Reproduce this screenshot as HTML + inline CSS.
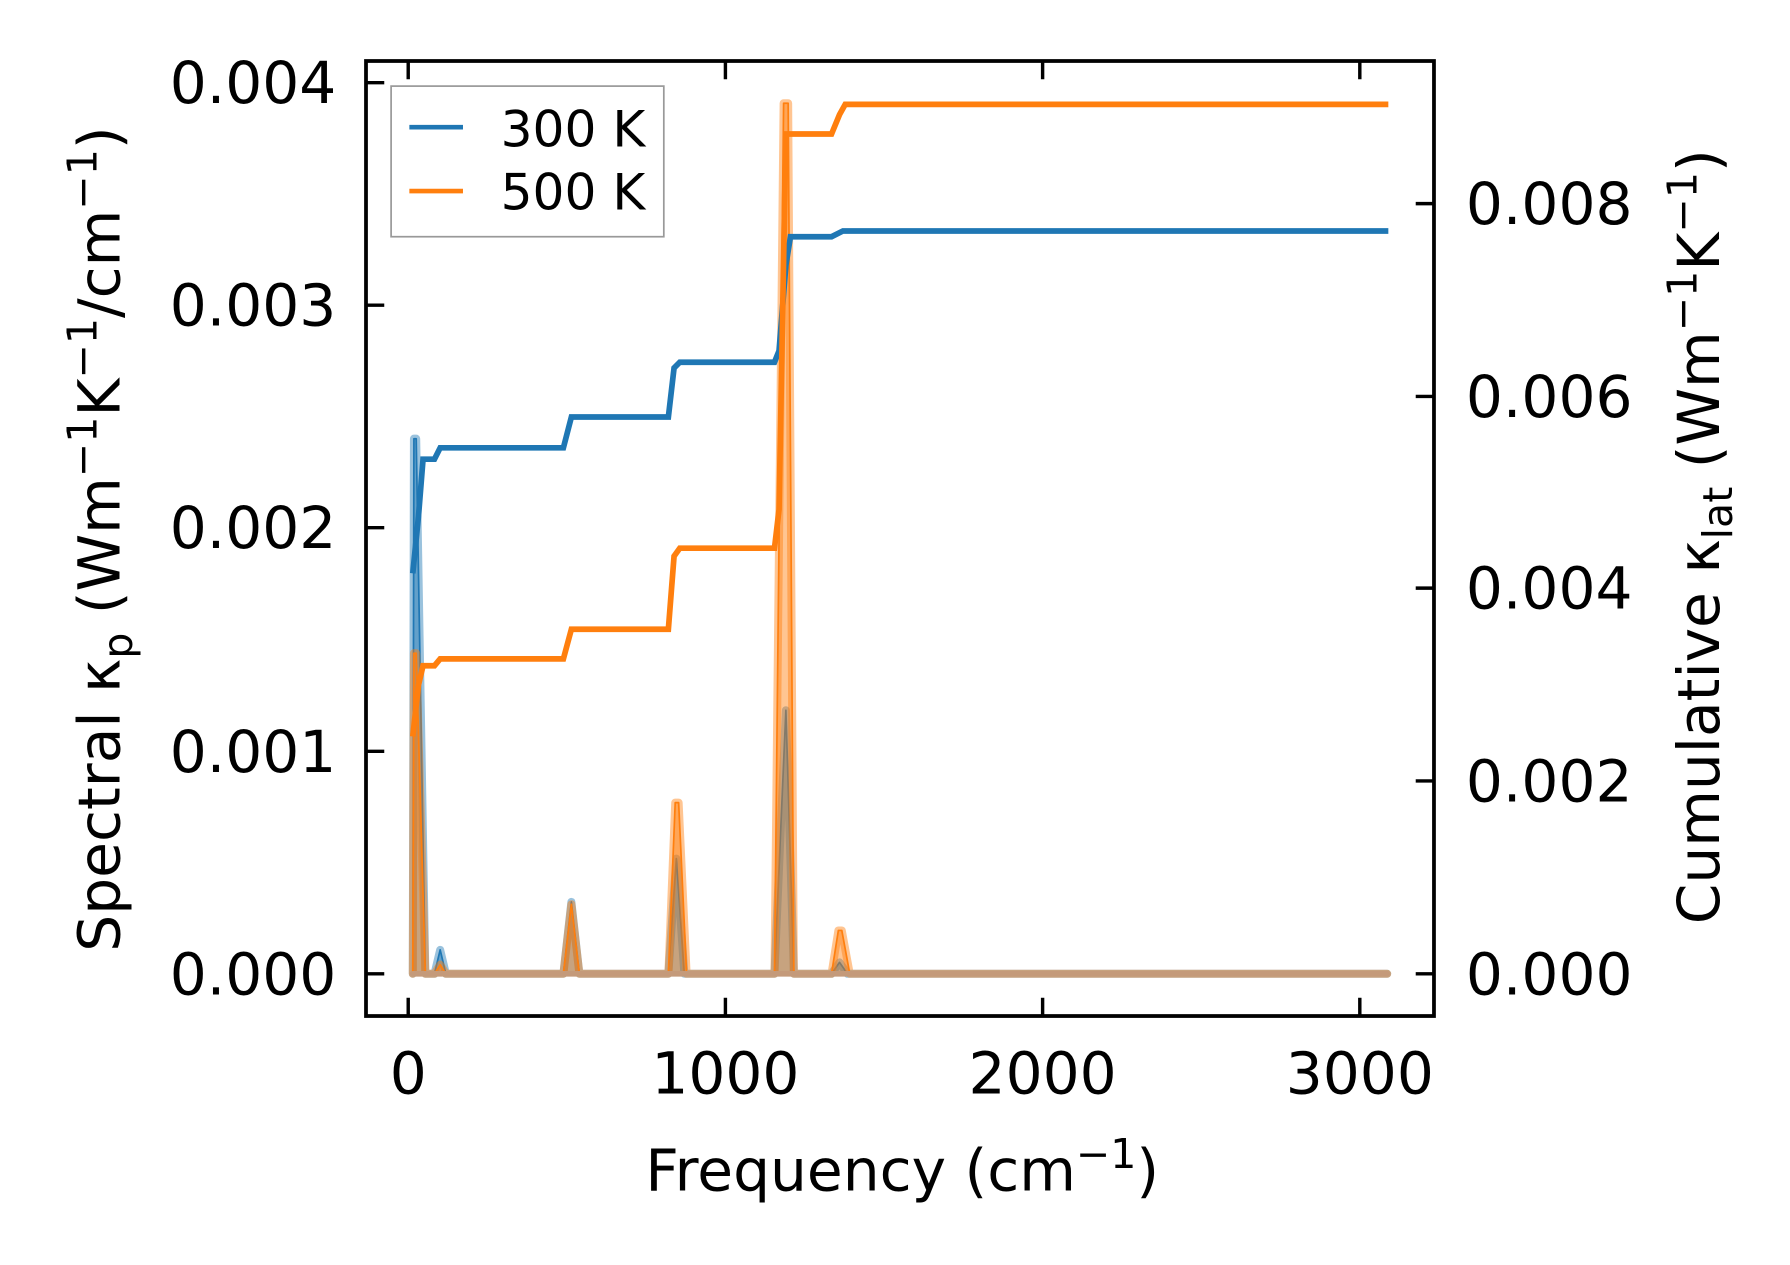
<!DOCTYPE html>
<html><head><meta charset="utf-8"><style>html,body{margin:0;padding:0;background:#fff}svg{display:block}</style></head>
<body>
<svg width="1790" height="1265" viewBox="0 0 1790 1265" xmlns="http://www.w3.org/2000/svg" font-family="'DejaVu Sans','Liberation Sans',sans-serif">
<rect width="1790" height="1265" fill="#fff"/>
<g transform="translate(366,61) scale(1.141) translate(-320,-53)">
  <g stroke-linejoin="round" stroke-linecap="round">
    <polygon fill="#1f77b4" fill-opacity="0.45" points="361,853 362,384 364,384 372,853 380,853 385,832 390,853 493,853 500,790 507,853 585,853 592,752 599,853 678,853 688,622 695,853 728,853 735,843 742,853"/>
    <polyline fill="none" stroke="#1f77b4" stroke-opacity="0.45" stroke-width="7" points="361,853 362,384 364,384 372,853 380,853 385,832 390,853 493,853 500,790 507,853 585,853 592,752 599,853 678,853 688,622 695,853 728,853 735,843 742,853 1215,853"/>
    <polyline fill="none" stroke="#1f77b4" stroke-width="1.5" points="361,853 362,384 364,384 372,853 380,853 385,832 390,853 493,853 500,790 507,853 585,853 592,752 599,853 678,853 688,622 695,853 728,853 735,843 742,853 1215,853"/>
    <polygon fill="#ff7f0e" fill-opacity="0.45" points="361,853 362,572 364,572 372,853 380,853 385,845 390,853 493,853 500,792 507,853 585,853 591,703 594,703 601,853 678,853 686,90 690,90 695,853 728,853 734,815 737,815 744,853"/>
    <polyline fill="none" stroke="#ff7f0e" stroke-opacity="0.45" stroke-width="7" points="361,853 362,572 364,572 372,853 380,853 385,845 390,853 493,853 500,792 507,853 585,853 591,703 594,703 601,853 678,853 686,90 690,90 695,853 728,853 734,815 737,815 744,853 1215,853"/>
    <polyline fill="none" stroke="#ff7f0e" stroke-width="1.5" points="361,853 362,572 364,572 372,853 380,853 385,845 390,853 493,853 500,792 507,853 585,853 591,703 594,703 601,853 678,853 686,90 690,90 695,853 728,853 734,815 737,815 744,853"/>
    <line x1="361" y1="853" x2="1215" y2="853" stroke="#c49a7a" stroke-width="5"/>
  </g>
  <polyline fill="none" stroke="#1f77b4" stroke-width="5" points="361,502 366,452 370,402 380,402 385,392 493,392 500,365 585,365 590,322 595,317 678,317 682,307 688,232 692,207 728,207 738,202 1216,202"/>
  <polyline fill="none" stroke="#ff7f0e" stroke-width="5" points="361,645 366,600 370,583 380,583 385,577 493,577 500,551 585,551 590,487 595,480 678,480 682,446 688,117 692,117 728,117 735,100 740,91 1216,91"/>
  <rect x="320" y="53" width="936" height="837" fill="none" stroke="#000" stroke-width="3.3"/>
  <g stroke="#000" stroke-width="3">
    <line x1="320" y1="853" x2="336" y2="853"/><line x1="320" y1="658" x2="336" y2="658"/><line x1="320" y1="462" x2="336" y2="462"/><line x1="320" y1="267" x2="336" y2="267"/><line x1="320" y1="72" x2="336" y2="72"/>
    <line x1="1240" y1="853" x2="1256" y2="853"/><line x1="1240" y1="684" x2="1256" y2="684"/><line x1="1240" y1="515" x2="1256" y2="515"/><line x1="1240" y1="347" x2="1256" y2="347"/><line x1="1240" y1="178" x2="1256" y2="178"/>
    <line x1="357" y1="874" x2="357" y2="890"/><line x1="635" y1="874" x2="635" y2="890"/><line x1="913" y1="874" x2="913" y2="890"/><line x1="1191" y1="874" x2="1191" y2="890"/>
    <line x1="357" y1="53" x2="357" y2="69"/><line x1="635" y1="53" x2="635" y2="69"/><line x1="913" y1="53" x2="913" y2="69"/><line x1="1191" y1="53" x2="1191" y2="69"/>
  </g>
  <g font-size="51" fill="#000">
    <g text-anchor="end">
      <text x="294" y="871">0.000</text><text x="294" y="676">0.001</text><text x="294" y="480">0.002</text><text x="294" y="285">0.003</text><text x="294" y="90">0.004</text>
    </g>
    <g text-anchor="start">
      <text x="1284" y="871">0.000</text><text x="1284" y="702">0.002</text><text x="1284" y="533">0.004</text><text x="1284" y="365">0.006</text><text x="1284" y="196">0.008</text>
    </g>
    <g text-anchor="middle">
      <text x="357" y="958">0</text><text x="635" y="958">1000</text><text x="913" y="958">2000</text><text x="1191" y="958">3000</text>
      <text x="790" y="1043">Frequency (cm<tspan font-size="36" dy="-20">−1</tspan><tspan dy="20">)</tspan></text>
    </g>
    <text transform="translate(104,472) rotate(-90)" text-anchor="middle">Spectral κ<tspan font-size="36" dy="11">p</tspan><tspan dy="-11"> (Wm</tspan><tspan font-size="36" dy="-20">−1</tspan><tspan dy="20">K</tspan><tspan font-size="36" dy="-20">−1</tspan><tspan dy="20">/cm</tspan><tspan font-size="36" dy="-20">−1</tspan><tspan dy="20">)</tspan></text>
    <text transform="translate(1506,470) rotate(-90)" text-anchor="middle">Cumulative κ<tspan font-size="36" dy="11">lat</tspan><tspan dy="-11"> (Wm</tspan><tspan font-size="36" dy="-20">−1</tspan><tspan dy="20">K</tspan><tspan font-size="36" dy="-20">−1</tspan><tspan dy="20">)</tspan></text>
  </g>
  <rect x="342" y="75" width="239" height="132" fill="#fff" fill-opacity="0.8" stroke="#999" stroke-width="1.5"/>
  <line x1="358" y1="111" x2="405" y2="111" stroke="#1f77b4" stroke-width="4"/>
  <line x1="358" y1="167" x2="405" y2="167" stroke="#ff7f0e" stroke-width="4"/>
  <text x="438" y="128" font-size="44">300 K</text>
  <text x="438" y="183" font-size="44">500 K</text>
</g>
</svg>
</body></html>
